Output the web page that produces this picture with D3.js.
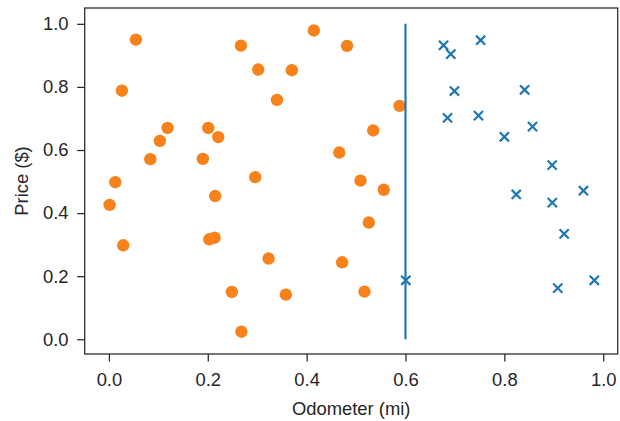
<!DOCTYPE html>
<html>
<head>
<meta charset="utf-8">
<script src="https://cdn.jsdelivr.net/npm/d3@7"></script>
<style>
  html, body { margin: 0; padding: 0; background: #fff; }
  text { font-family: "Liberation Sans", Arial, sans-serif; fill: #262626; }
</style>
</head>
<body>
<svg id="chart" width="620" height="421"></svg>
<script>
// Orange circles (rejected / class 0)
const orangeX = [0.0546, 0.0263, 0.1187, 0.1031, 0.0837, 0.0129, 0.201, 0.2212, 0.190, 0.267,
  0.302, 0.370, 0.340, 0.4146, 0.4817, 0.466, 0.296, 0.215, 0.0014, 0.029,
  0.203, 0.2138, 0.323, 0.4718, 0.2487, 0.358, 0.268, 0.588, 0.5347, 0.509,
  0.556, 0.5258, 0.517];
const orangeY = [0.950, 0.788, 0.670, 0.629, 0.571, 0.498, 0.670, 0.641, 0.572, 0.931,
  0.855, 0.853, 0.759, 0.979, 0.930, 0.592, 0.514, 0.454, 0.426, 0.298,
  0.317, 0.322, 0.256, 0.244, 0.150, 0.1415, 0.024, 0.740, 0.662, 0.503,
  0.474, 0.370, 0.151];
// Blue crosses (class 1)
const blueX = [0.677, 0.6916, 0.752, 0.699, 0.841, 0.685, 0.7476, 0.857, 0.800, 0.8967,
  0.824, 0.960, 0.897, 0.921, 0.982, 0.908, 0.6006];
const blueY = [0.932, 0.904, 0.948, 0.787, 0.791, 0.702, 0.709, 0.674, 0.642, 0.552,
  0.459, 0.471, 0.433, 0.334, 0.187, 0.162, 0.187];
// Decision boundary
const boundaryX = [0.6, 0.6];
const boundaryY = [0.0, 1.0];
const tickValues = [0.0, 0.2, 0.4, 0.6, 0.8, 1.0];
const xLabel = "Odometer (mi)";
const yLabel = "Price ($)";

const svg = d3.select("#chart");
const mLeft = 84.7, mRight = 617.7, mTop = 8, mBottom = 354;
const x = d3.scaleLinear().domain([-0.049, 1.0293]).range([mLeft, mRight]);
const y = d3.scaleLinear().domain([-0.0467, 1.0502]).range([mBottom, mTop]);

const axisColor = "#262626";
const fs = 18.4;

// frame
svg.append("rect").attr("x", mLeft).attr("y", mTop)
  .attr("width", mRight - mLeft).attr("height", mBottom - mTop)
  .attr("fill", "none").attr("stroke", axisColor).attr("stroke-width", 1.25);

const xAxis = svg.append("g").attr("transform", `translate(0,${mBottom})`)
  .call(d3.axisBottom(x).tickValues(tickValues).tickFormat(d3.format(".1f")).tickSize(7.5).tickPadding(11));
const yAxis = svg.append("g").attr("transform", `translate(${mLeft},0)`)
  .call(d3.axisLeft(y).tickValues(tickValues).tickFormat(d3.format(".1f")).tickSize(7.5).tickPadding(8.7));
[xAxis, yAxis].forEach(g => {
  g.select(".domain").remove();
  g.selectAll(".tick line").attr("stroke", axisColor).attr("stroke-width", 1.25);
  g.selectAll(".tick text").style("font-size", fs + "px").style("font-family", "'Liberation Sans', Arial, sans-serif").attr("fill", axisColor);
});

// axis labels
svg.append("text").attr("x", (mLeft + mRight) / 2).attr("y", 414.5)
  .attr("text-anchor", "middle").style("font-size", fs + "px").text(xLabel);
svg.append("text").attr("transform", `translate(27.5,${(mTop + mBottom) / 2}) rotate(-90)`)
  .attr("text-anchor", "middle").style("font-size", fs + "px").text(yLabel);

// orange circles
svg.append("g").selectAll("circle").data(orangeX.map((d, i) => [d, orangeY[i]]))
  .join("circle").attr("cx", d => x(d[0])).attr("cy", d => y(d[1]))
  .attr("r", 6.2).attr("fill", "#f7821b");

// boundary line
svg.append("line").attr("x1", x(boundaryX[0])).attr("x2", x(boundaryX[1]))
  .attr("y1", y(boundaryY[0])).attr("y2", y(boundaryY[1]))
  .attr("stroke", "#1f77b4").attr("stroke-width", 2.2);

// blue crosses
const s = 4.6;
svg.append("g").selectAll("path").data(blueX.map((d, i) => [d, blueY[i]]))
  .join("path")
  .attr("d", d => {
    const cx = x(d[0]), cy = y(d[1]);
    return `M${cx - s},${cy - s}L${cx + s},${cy + s}M${cx - s},${cy + s}L${cx + s},${cy - s}`;
  })
  .attr("stroke", "#1f77b4").attr("stroke-width", 2.2).attr("fill", "none");
</script>
</body>
</html>
